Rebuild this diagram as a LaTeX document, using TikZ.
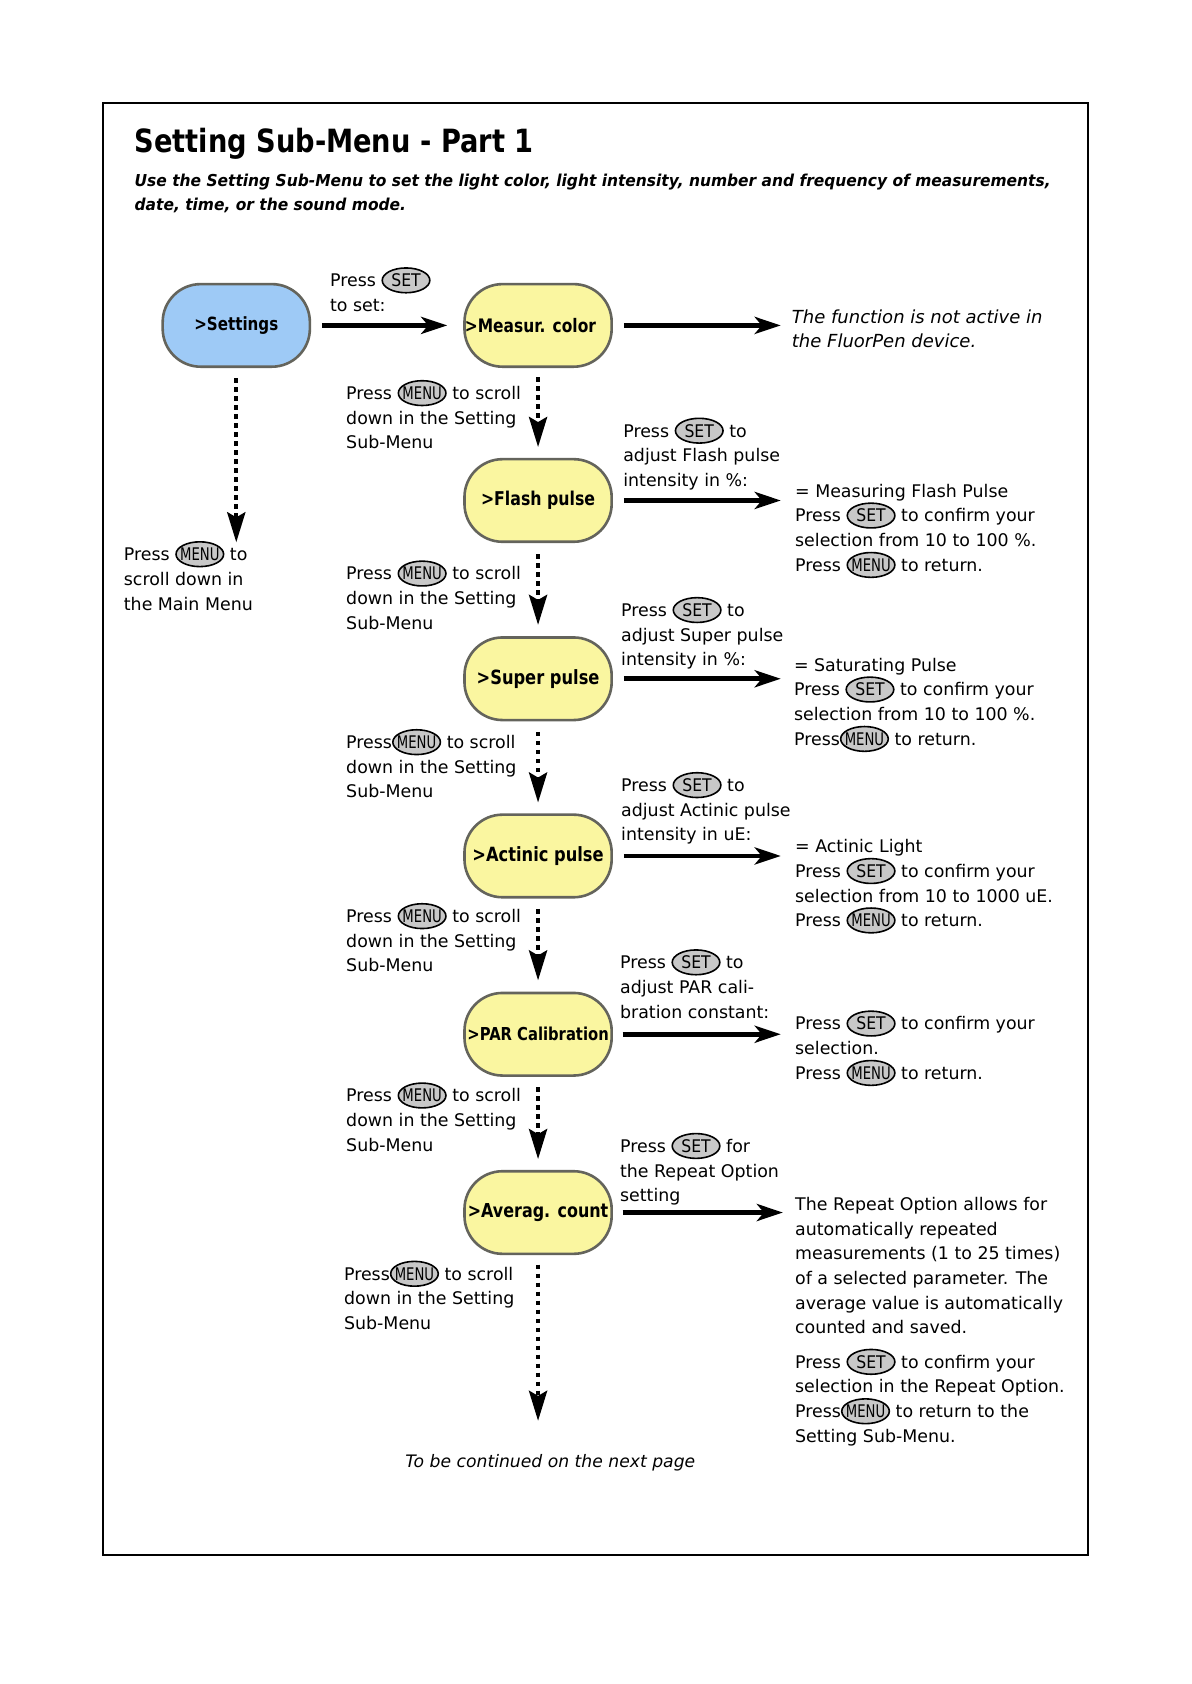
\documentclass[tikz,border=0pt]{standalone}
\usepackage{fontspec}
\usepackage{graphicx}
\setmainfont{DejaVu Sans}
\newfontfamily\pillfont{DejaVu Sans}[FakeStretch=0.83]
\usetikzlibrary{arrows.meta,shapes.geometric}
\definecolor{pillblue}{RGB}{158,202,246}
\definecolor{pillyellow}{RGB}{250,246,160}
\definecolor{pillborder}{RGB}{100,100,92}
\definecolor{keyfill}{RGB}{200,200,200}
\newcommand\bodyfont{\fontsize{8.7}{12.35}\selectfont\lineskiplimit=-20pt\lineskip=0pt}
\newcommand\itbody{\fontsize{9}{12.35}\selectfont\itshape\lineskiplimit=-20pt\lineskip=0pt}
\newcommand\subfont{\fontsize{8.2}{11.8}\selectfont\bfseries\itshape}
\newcommand\subone{Use the Setting Sub-Menu to set the light color, light intensity, number and frequency of measurements,}
\newcommand\tstrut{\rule{0pt}{10pt}}
\newcommand\pf[1]{\pillfont\fontsize{#1}{10}\bfseries\selectfont}
\newcounter{keyc}
\newcommand\keybtn[1]{\stepcounter{keyc}\tikz[baseline=-3.2pt]{\draw[line width=0.8pt, fill=keyfill] (0pt,0pt) ellipse [x radius=11.9pt, y radius=6.2pt];\node[name=key\arabic{keyc}, inner sep=0pt, outer sep=0pt, anchor=center, align=center, font=\fontsize{8.7}{9}\selectfont] at (0pt,0pt) {#1};}}
\newcommand\kset{\keybtn{\scalebox{0.9}[1]{SET}}}
\newcommand\kmenu{\keybtn{\scalebox{0.76}[1]{MENU}}}
\newlength\subw
\begin{document}
\begin{tikzpicture}[x=0.537pt,y=-0.537pt,
  pill/.style={rectangle, rounded corners=19pt, draw=pillborder, line width=1.3pt,
    minimum width=73.6pt, minimum height=41.3pt, inner sep=0pt, font=\pf{9.3}},
  txt/.style={anchor=north west, inner sep=0pt, align=left, font=\bodyfont},
  ittxt/.style={anchor=north west, inner sep=0pt, align=left, font=\itbody},
  flow/.style={line width=2.3pt, -{Stealth[length=13pt,width=8.5pt,inset=3.5pt]}},
  scroll/.style={line width=2.2pt, dash pattern=on 2.3pt off 2.2pt, -{Stealth[length=15pt,width=9pt,inset=2.5pt]}}]
\useasboundingbox (0,0) rectangle (1109,1568);
\fill[white] (0,0) rectangle (1109,1568);
\draw[line width=0.8pt] (96,96) rectangle (1013,1448);
% title
\node[anchor=base west, inner sep=0pt] (title) at (125,142) {\resizebox{199.5pt}{\height}{\fontsize{16}{16}\selectfont\bfseries Setting Sub-Menu - Part 1}};
\node[anchor=base west, inner sep=0pt] (sub1) at (125,174) {\resizebox{458pt}{\height}{\subfont\subone}};
\node[anchor=base west, inner sep=0pt] (sub2) at (125,196) {\settowidth\subw{\subfont\subone}\pgfmathsetmacro\subsc{458/\subw}\scalebox{\subsc}[1]{\subfont date, time, or the sound mode.}};
% pills
\node[pill, fill=pillblue, font=\pf{9.1}] (settings) at (220,303) {>Settings};
\node[pill, fill=pillyellow] (measur) at (501,303) {\hspace*{-7.6pt}>Measur. color};
\node[pill, fill=pillyellow, font=\pf{9.5}] (flash) at (501,466) {>Flash pulse};
\node[pill, fill=pillyellow, font=\pf{9.8}] (super) at (501,632) {>Super pulse};
\node[pill, fill=pillyellow, font=\pf{9.8}] (actinic) at (501,797) {>Actinic pulse};
\node[pill, fill=pillyellow, font=\pf{8.9}] (par) at (501,963) {>PAR Calibration};
\node[pill, fill=pillyellow, font=\pf{9.6}] (averag) at (501,1129) {>Averag. count};
% texts
\node[txt] (tset) at (307,248) {\tstrut Press \kset\\to set:};
\node[ittxt] (tfunc) at (737,282) {\tstrut The function is not active in\\the FluorPen device.};
\node[txt] (tmain) at (115,503) {\tstrut Press \kmenu{} to\\scroll down in\\the Main Menu};
\node[txt] (ts1) at (322,353) {\tstrut Press \kmenu{} to scroll\\down in the Setting\\Sub-Menu};
\node[txt] (ts2) at (322,521) {\tstrut Press \kmenu{} to scroll\\down in the Setting\\Sub-Menu};
\node[txt] (ts3) at (322,678) {\tstrut Press\kmenu{} to scroll\\down in the Setting\\Sub-Menu};
\node[txt] (ts4) at (322,840) {\tstrut Press \kmenu{} to scroll\\down in the Setting\\Sub-Menu};
\node[txt] (ts5) at (322,1007) {\tstrut Press \kmenu{} to scroll\\down in the Setting\\Sub-Menu};
\node[txt] (ts6) at (320,1173) {\tstrut Press\kmenu{} to scroll\\down in the Setting\\Sub-Menu};
\node[txt] (fl) at (580,388) {\tstrut Press \kset{} to\\adjust Flash pulse\\intensity in \%:};
\node[txt] (fr) at (740,444) {\tstrut = Measuring Flash Pulse\\Press \kset{} to confirm your\\selection from 10 to 100 \%.\\Press \kmenu{} to return.};
\node[txt] (sl) at (578,555) {\tstrut Press \kset{} to\\adjust Super pulse\\intensity in \%:};
\node[txt] (sr) at (739,606) {\tstrut = Saturating Pulse\\Press \kset{} to confirm your\\selection from 10 to 100 \%.\\Press\kmenu{} to return.};
\node[txt] (al) at (578,718) {\tstrut Press \kset{} to\\adjust Actinic pulse\\intensity in uE:};
\node[txt] (ar) at (740,775) {\tstrut = Actinic Light\\Press \kset{} to confirm your\\selection from 10 to 1000 uE.\\Press \kmenu{} to return.};
\node[txt] (pl) at (577,883) {\tstrut Press \kset{} to\\adjust PAR cali-\\bration constant:};
\node[txt] (pr) at (740,940) {\tstrut Press \kset{} to confirm your\\selection.\\Press \kmenu{} to return.};
\node[txt] (vl) at (577,1054) {\tstrut Press \kset{} for\\the Repeat Option\\setting};
\node[txt] (vr1) at (740,1108) {\tstrut The Repeat Option allows for\\automatically repeated\\measurements (1 to 25 times)\\of a selected parameter. The\\average value is automatically\\counted and saved.};
\node[txt] (vr2) at (740,1255) {\tstrut Press \kset{} to confirm your\\selection in the Repeat Option.\\Press\kmenu{} to return to the\\Setting Sub-Menu.};
\node[ittxt, font=\fontsize{8.6}{12}\selectfont\itshape] (cont) at (377,1347) {\tstrut To be continued on the next page};
% solid arrows
\draw[flow, shorten <=5.4pt, shorten >=8pt] (settings) -- (measur);
\coordinate (mEnd) at (727,303);
\coordinate (fEnd) at (727,466);
\coordinate (sEnd) at (727,632);
\coordinate (aEnd) at (727,797);
\coordinate (pEnd) at (727,963);
\coordinate (vEnd) at (729,1129);
\draw[flow, shorten <=5.4pt] (measur) -- (mEnd);
\draw[flow, shorten <=5.4pt] (flash) -- (fEnd);
\draw[flow, shorten <=5.4pt] (super) -- (sEnd);
\draw[flow, shorten <=5.4pt] (actinic) -- (aEnd);
\draw[flow, shorten <=4.8pt] (par) -- (pEnd);
\draw[flow, shorten <=4.8pt] (averag) -- (vEnd);
% dotted arrows
\coordinate (setEnd) at (220,505);
\coordinate (avgEnd) at (501,1323);
\draw[scroll, shorten <=5.2pt] (settings) -- (setEnd);
\draw[scroll, shorten <=4.5pt, shorten >=5.4pt] (measur) -- (flash);
\draw[scroll, shorten <=5.5pt, shorten >=5.6pt] (flash) -- (super);
\draw[scroll, shorten <=5.2pt, shorten >=5.4pt] (super) -- (actinic);
\draw[scroll, shorten <=5.2pt, shorten >=5.6pt] (actinic) -- (par);
\draw[scroll, shorten <=5.2pt, shorten >=5.4pt] (par) -- (averag);
\draw[scroll, shorten <=4.8pt] (averag) -- (avgEnd);
\end{tikzpicture}
\end{document}
